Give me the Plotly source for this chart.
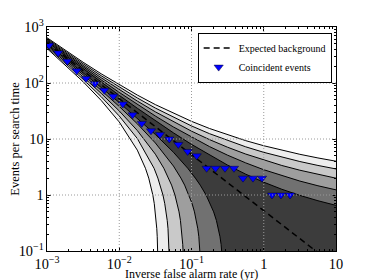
import math
import plotly.graph_objects as go

# ---------------- data ----------------
# expected background: events per search time vs inverse false alarm rate
BG_X = [1e-3, 10.0]
BG_Y = [525.0, 0.0525]

# coincident events (cumulative counts)
EV_X = [1.07e-3, 1.43e-3, 1.91e-3, 2.58e-3, 3.47e-3, 4.61e-3, 6.21e-3, 8.28e-3,
        1.12e-2, 1.53e-2, 2.05e-2, 2.75e-2, 3.66e-2, 4.93e-2, 6.57e-2, 8.85e-2,
        0.118, 0.162, 0.215, 0.291, 0.387, 0.516, 0.709, 0.946, 1.30, 1.73, 2.31]
EV_Y = [470, 345, 245, 165, 120, 97, 74, 58, 42, 27, 19, 14, 12, 10, 8, 6, 5,
        3, 3, 3, 3, 2, 2, 2, 1, 1, 1]

# sigma bands (upper edges sampled on a common x grid)
BAND_X = [0.001, 0.001778, 0.003162, 0.005623, 0.01, 0.01778, 0.03162, 0.05623,
          0.1, 0.1778, 0.3162, 0.5623, 1.0, 1.778, 3.162, 5.623, 10.0]
UP5 = [644, 385.5, 234.8, 146, 93.01, 60.91, 41.12, 28.67, 20.67, 15.39, 11.82, 9.344, 7.581, 6.293, 5.328, 4.59, 4.013]
UP4 = [619.6, 366.9, 220.5, 134.9, 84.36, 54.1, 35.7, 24.31, 17.11, 12.44, 9.35, 7.25, 5.78, 4.73, 3.96, 3.37, 2.92]
UP3 = [595.6, 348.6, 206.5, 124.1, 76.01, 47.58, 30.56, 20.21, 13.8, 9.751, 7.127, 5.386, 4.199, 3.368, 2.771, 2.33, 1.996]
UP2 = [571.8, 330.6, 192.8, 113.7, 67.97, 41.36, 25.71, 16.4, 10.77, 7.311, 5.14, 3.746, 2.827, 2.206, 1.773, 1.463, 1.235]
UP1 = [548.4, 312.9, 179.4, 103.5, 60.24, 35.45, 21.17, 12.88, 8.022, 5.145, 3.415, 2.356, 1.693, 1.266, 0.9838, 0.7903, 0.6532]

# lower edges: values on the first grid points, then the steep drop (value, log10 x)
LO5 = [414, 212.9, 105.3, 48.78, 20.1, 6.333]
LO4 = [435.4, 228.5, 116.6, 56.9, 25.7, 10.2]
LO3 = [457.1, 244.5, 128.2, 65.26, 31.67, 14.16, 5.353]
LO2 = [479.2, 260.9, 140.3, 74.05, 38.03, 18.69, 8.499, 3.289]
LO1 = [501.6, 277.5, 152.6, 83.2, 44.76, 23.6, 12.04, 5.793]
DROP_Y = [3, 2, 1.5, 1, 0.7, 0.5, 0.35, 0.25, 0.18, 0.13, 0.1, 0.07, 0.05]
DROP5 = [-1.6375, -1.5918, -1.5653, -1.5354, -1.5151, -1.5005, -1.4887, -1.4804, -1.4744, -1.4699, -1.4672, -1.4644, -1.4626]
DROP4 = [-1.5180, -1.4652, -1.4327, -1.3952, -1.3701, -1.3513, -1.3360, -1.3252, -1.3173, -1.3114, -1.3078, -1.3041, -1.3017]
DROP3 = [-1.3830, -1.3161, -1.2759, -1.2292, -1.1968, -1.1728, -1.1531, -1.1391, -1.1288, -1.1211, -1.1164, -1.1115, -1.1083]
DROP2 = [-1.2293, -1.1460, -1.0950, -1.0344, -0.9915, -0.9591, -0.9322, -0.9128, -0.8984, -0.8877, -0.8811, -0.8743, -0.8696]
DROP1 = [-1.0520, -0.9462, -0.8795, -0.7983, -0.7392, -0.6937, -0.6552, -0.6271, -0.6060, -0.5900, -0.5801, -0.5699, -0.5630]

TICKS = [1e-3, 1e-2, 1e-1, 1, 10]
YTICKS = [1e-1, 1, 10, 100, 1000]
X_RANGE = [1e-3, 10]
Y_RANGE = [1e-1, 1e3]
X_TITLE = 'Inverse false alarm rate (yr)'
Y_TITLE = 'Events per search time'

BAND_COLORS = {5: '#ededed', 4: '#c9c9c9', 3: '#9e9e9e', 2: '#717171', 1: '#3c3c3c'}
FONT = "Liberation Serif"

bands = {
    5: (UP5, LO5, DROP5),
    4: (UP4, LO4, DROP4),
    3: (UP3, LO3, DROP3),
    2: (UP2, LO2, DROP2),
    1: (UP1, LO1, DROP1),
}

fig = go.Figure()
for k in [5, 4, 3, 2, 1]:
    up, lo, drop = bands[k]
    lx = BAND_X[:len(lo)] + [10 ** v for v in drop]
    ly = lo + DROP_Y
    floor = Y_RANGE[0] / 100
    px = BAND_X + [BAND_X[-1], lx[-1]] + lx[::-1]
    py = up + [floor, floor] + ly[::-1]
    fig.add_trace(go.Scatter(x=px, y=py, mode='lines', fill='toself', fillcolor=BAND_COLORS[k],
                             line=dict(width=0), showlegend=False, hoverinfo='skip'))
    fig.add_trace(go.Scatter(x=BAND_X, y=up, mode='lines', line=dict(color='black', width=1),
                             showlegend=False, hoverinfo='skip'))
    fig.add_trace(go.Scatter(x=lx, y=ly, mode='lines', line=dict(color='black', width=1),
                             showlegend=False, hoverinfo='skip'))

fig.add_trace(go.Scatter(x=BG_X, y=BG_Y, mode='lines', name='Expected background',
                         line=dict(color='black', width=1.5, dash='6px,4px')))
fig.add_trace(go.Scatter(x=EV_X, y=EV_Y, mode='markers', name='Coincident events',
                         marker=dict(symbol='triangle-down', size=8, color='#0000ff',
                                     line=dict(color='#000033', width=0.5))))

# dotted grid drawn above the shaded bands
lx0, lx1 = math.log10(X_RANGE[0]), math.log10(X_RANGE[1])
ly0, ly1 = math.log10(Y_RANGE[0]), math.log10(Y_RANGE[1])
shapes = []
for t in TICKS[1:-1]:
    f = (math.log10(t) - lx0) / (lx1 - lx0)
    shapes.append(dict(type='line', xref='x domain', yref='y domain', x0=f, x1=f, y0=0, y1=1,
                       line=dict(color='#9a9a9a', width=1, dash='1px,2px'), layer='above'))
for t in YTICKS[1:-1]:
    f = (math.log10(t) - ly0) / (ly1 - ly0)
    shapes.append(dict(type='line', xref='x domain', yref='y domain', y0=f, y1=f, x0=0, x1=1,
                       line=dict(color='#9a9a9a', width=1, dash='1px,2px'), layer='above'))

axis_common = dict(type='log', showgrid=False, showline=True, linecolor='black', linewidth=1,
                   mirror='ticks', ticks='inside', ticklen=4, tickcolor='black',
                   dtick=1, exponentformat='power', layer='above traces', automargin=False,
                   minor=dict(ticks='inside', ticklen=2, tickcolor='black', dtick='D1', showgrid=False),
                   tickfont=dict(family=FONT, size=11.5, color='black'), zeroline=False)

fig.update_xaxes(range=[lx0, lx1], **axis_common)
fig.update_yaxes(range=[ly0, ly1],
                 title=dict(text=Y_TITLE, standoff=3,
                            font=dict(family=FONT, size=12.5, color='black')),
                 **axis_common)

# x-axis title placed just below the tick labels
fig.add_annotation(text=X_TITLE, xref='paper', yref='paper', x=0.5, y=0,
                   xanchor='center', yanchor='top', yshift=-14, showarrow=False,
                   font=dict(family=FONT, size=12, color='black'))

# the page adds an 8px offset, so the figure is drawn 8px smaller on top/left
fig.update_layout(width=366, height=272, margin=dict(l=39, r=38, t=19, b=29),
                  plot_bgcolor='white', paper_bgcolor='white', shapes=shapes,
                  font=dict(family=FONT, color='black'),
                  legend=dict(x=0.985, y=0.975, xanchor='right', yanchor='top',
                              bgcolor='white', bordercolor='black', borderwidth=1,
                              font=dict(family=FONT, size=10, color='black'),
                              itemwidth=30, tracegroupgap=0))

fig.write_html("out.html")
